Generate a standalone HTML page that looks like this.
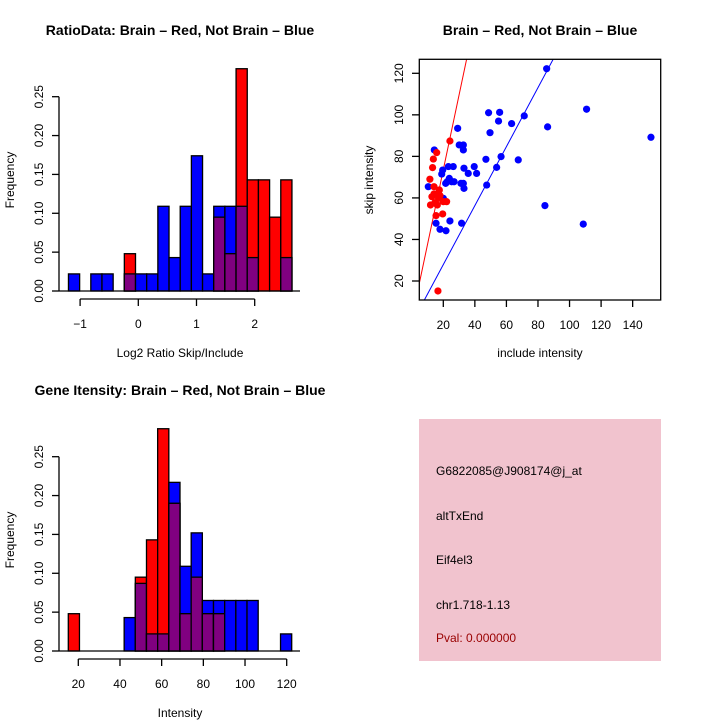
<!DOCTYPE html>
<html><head><meta charset="utf-8">
<style>
html,body{margin:0;padding:0;background:#fff;}
svg{display:block;font-family:"Liberation Sans",sans-serif;}
</style></head>
<body>
<svg id="c" width="720" height="720" viewBox="0 0 720 720">
<rect width="720" height="720" fill="#fff"/>
<text x="180" y="35" font-size="14" font-weight="bold" text-anchor="middle">RatioData: Brain – Red, Not Brain – Blue</text>
<text x="540" y="35" font-size="14" font-weight="bold" text-anchor="middle">Brain – Red, Not Brain – Blue</text>
<text x="180" y="395" font-size="14" font-weight="bold" text-anchor="middle">Gene Itensity: Brain – Red, Not Brain – Blue</text>
<text x="180" y="357" font-size="12" text-anchor="middle">Log2 Ratio Skip/Include</text>
<text transform="translate(14,180) rotate(-90)" font-size="12" text-anchor="middle">Frequency</text>
<text x="540" y="357" font-size="12" text-anchor="middle">include intensity</text>
<text transform="translate(373,180) rotate(-90)" font-size="12" text-anchor="middle">skip intensity</text>
<text x="180" y="717" font-size="12" text-anchor="middle">Intensity</text>
<text transform="translate(14,540) rotate(-90)" font-size="12" text-anchor="middle">Frequency</text>
<g>
<rect x="419" y="419" width="242" height="242" fill="#f1c3ce"/>
<text x="436" y="475" font-size="12">G6822085@J908174@j_at</text>
<text x="436" y="520" font-size="12">altTxEnd</text>
<text x="436" y="564" font-size="12">Eif4el3</text>
<text x="436" y="609" font-size="12">chr1.718-1.13</text>
<text x="436" y="642" font-size="12" fill="#990000">Pval: 0.000000</text>
</g>
</svg>
<script>
// Ratio histogram data
const ratioBreakStart = -1.2;
const ratioBinWidth = 0.192;
const ratioBlue = [0.022,0,0.022,0.022,0,0.022,0.022,0.022,0.109,0.043,0.109,0.174,0.022,0.109,0.109,0.109,0.043,0,0,0.043];
const ratioRed  = [0,0,0,0,0,0.048,0,0,0,0,0,0,0,0.095,0.048,0.286,0.143,0.143,0.095,0.143];
const ratioXTicks = [-1,0,1,2];
const freqTicks = ["0.00","0.05","0.10","0.15","0.20","0.25"];
// Intensity histogram data
const intBreakStart = 15.2;
const intBinWidth = 5.36;
const intBlue = [0,0,0,0,0,0.043,0.087,0.022,0.022,0.217,0.109,0.152,0.065,0.065,0.065,0.065,0.065,0,0,0.022];
const intRed  = [0.048,0,0,0,0,0,0.095,0.143,0.286,0.190,0.048,0.095,0.048,0.048,0,0,0,0,0,0];
const intXTicks = [20,40,60,80,100,120];
// Scatter data
const blueInclude = [10.5,14.3,15.4,17.9,19,19.6,20,21.7,22.5,23.2,23.8,24.2,25.3,26.3,26.8,29.1,30.1,31.2,31.6,32.7,32.7,32.7,33.1,33.1,35.8,39.6,41.1,47,47.5,48.7,49.6,53.8,55,55.7,56.6,63.3,67.5,71.3,84.4,85.5,86.1,108.7,110.8,151.6,21.5];
const blueSkip    = [65.4,83.1,47.8,44.9,71.5,73.4,59.8,44.2,67.8,75.1,69.4,48.9,67.8,75.1,67.8,93.5,85.5,67,47.8,85.5,83.1,67,64.6,74.3,71.8,75.1,71.8,78.6,66.2,101,91.4,74.7,97,101.2,79.9,95.8,78.3,99.5,56.3,122.2,94.2,47.4,102.7,89.2,67];
const redInclude = [11.5,11.9,13.2,13.7,14.1,14.1,14.7,15.4,15.8,16.2,16.6,16.6,17.5,17.9,19.6,20,22.1,24.2,12.8,17];
const redSkip    = [69,56.6,74.6,78.7,65.4,61.9,57.7,51.5,81.8,56.6,62.2,15.2,63.8,61.1,52.3,58.2,58.2,87.4,60.6,59.8];
const redFit = [1.6,3.6];
const blueFit = [-0.5,1.42];
const scatterXTicks = [20,40,60,80,100,120,140];
const scatterYTicks = [20,40,60,80,100,120];

const NS="http://www.w3.org/2000/svg";
const svg=document.getElementById('c');
function mk(tag,attrs,parent){const e=document.createElementNS(NS,tag);for(const k in attrs)e.setAttribute(k,attrs[k]);(parent||svg).appendChild(e);return e;}

function hist(breakStart,binW,blue,red,xTicks,xs,y0,ticksY,name){
  const ys=v=>y0-v*777.2;
  const g=mk('g',{});
  
  
  for(let i=0;i<blue.length;i++){
    const x0=xs(breakStart+i*binW), x1=xs(breakStart+(i+1)*binW);
    const b=blue[i], r=red[i];
    if(b>0){const e=mk('rect',{x:x0,y:ys(b),width:x1-x0,height:y0-ys(b),fill:'#0000ff',stroke:'#000','stroke-width':1.3},g);
      
      }
    if(r>0){const e=mk('rect',{x:x0,y:ys(r),width:x1-x0,height:y0-ys(r),fill:'#ff0000',stroke:'#000','stroke-width':1.3},g);
      
      }
    const m=Math.min(b,r);
    if(m>0){const e=mk('rect',{x:x0,y:ys(m),width:x1-x0,height:y0-ys(m),fill:'#800080',stroke:'#000','stroke-width':1.3},g);
      
      }
  }
  mk('line',{x1:59,x2:300,y1:y0,y2:y0,stroke:'#000','stroke-width':1.3},g);
  const ya=mk('g',{},g);
  
  
  mk('line',{x1:59,x2:59,y1:ys(0.25),y2:y0,stroke:'#000','stroke-width':1.3},ya);
  freqTicks.forEach((t,i)=>{const y=ys(+t);
    mk('line',{x1:52,x2:59,y1:y,y2:y,stroke:'#000','stroke-width':1.3},ya);
    const tx=mk('text',{transform:`translate(43,${y}) rotate(-90)`,'font-size':12,'text-anchor':'middle'},ya);tx.textContent=t;});
  const xa=mk('g',{},g);
  
  
  mk('line',{x1:xs(xTicks[0]),x2:xs(xTicks[xTicks.length-1]),y1:ticksY,y2:ticksY,stroke:'#000','stroke-width':1.3},xa);
  xTicks.forEach(t=>{const x=xs(t);
    mk('line',{x1:x,x2:x,y1:ticksY,y2:ticksY+7,stroke:'#000','stroke-width':1.3},xa);
    const tx=mk('text',{x:x,y:ticksY+29,'font-size':12,'text-anchor':'middle'},xa);tx.textContent=String(t).replace('-','−');});
}
hist(ratioBreakStart,ratioBinWidth,ratioBlue,ratioRed,ratioXTicks,v=>138.3+v*58.2,291,299,'ratio-histogram');
hist(intBreakStart,intBinWidth,intBlue,intRed,intXTicks,v=>78.3+(v-20)*2.084,651,659,'intensity-histogram');

const sx=v=>443.3+(v-20)*1.578, sy=v=>281-(v-20)*2.077;
const sg=mk('g',{});


const cp=mk('clipPath',{id:'clp'},sg);mk('rect',{x:419.3,y:59.3,width:241.4,height:240.7},cp);
const fitLine=(f,col,nm)=>{const xa=0,xb=160;const l=mk('line',{x1:sx(xa),y1:sy(f[0]+f[1]*xa),x2:sx(xb),y2:sy(f[0]+f[1]*xb),stroke:col,'stroke-width':1,'clip-path':'url(#clp)'},sg);
  
  };
fitLine(redFit,'#ff0000','red-fit-line');
fitLine(blueFit,'#0000ff','blue-fit-line');
blueInclude.forEach((v,i)=>{const c=mk('circle',{cx:sx(v),cy:sy(blueSkip[i]),r:3.6,fill:'#0000ff'},sg);
  
  });
redInclude.forEach((v,i)=>{const c=mk('circle',{cx:sx(v),cy:sy(redSkip[i]),r:3.6,fill:'#ff0000'},sg);
  
  });
mk('rect',{x:419.3,y:59.3,width:241.4,height:240.7,fill:'none',stroke:'#000','stroke-width':1.3},sg);
scatterXTicks.forEach(t=>{const x=sx(t);mk('line',{x1:x,x2:x,y1:300,y2:307,stroke:'#000','stroke-width':1.3},sg);
  const tx=mk('text',{x:x,y:329,'font-size':12,'text-anchor':'middle'},sg);tx.textContent=t;});
scatterYTicks.forEach(t=>{const y=sy(t);mk('line',{x1:412,x2:419.3,y1:y,y2:y,stroke:'#000','stroke-width':1.3},sg);
  const tx=mk('text',{transform:`translate(403,${y}) rotate(-90)`,'font-size':12,'text-anchor':'middle'},sg);tx.textContent=t;});
</script>
</body></html>
